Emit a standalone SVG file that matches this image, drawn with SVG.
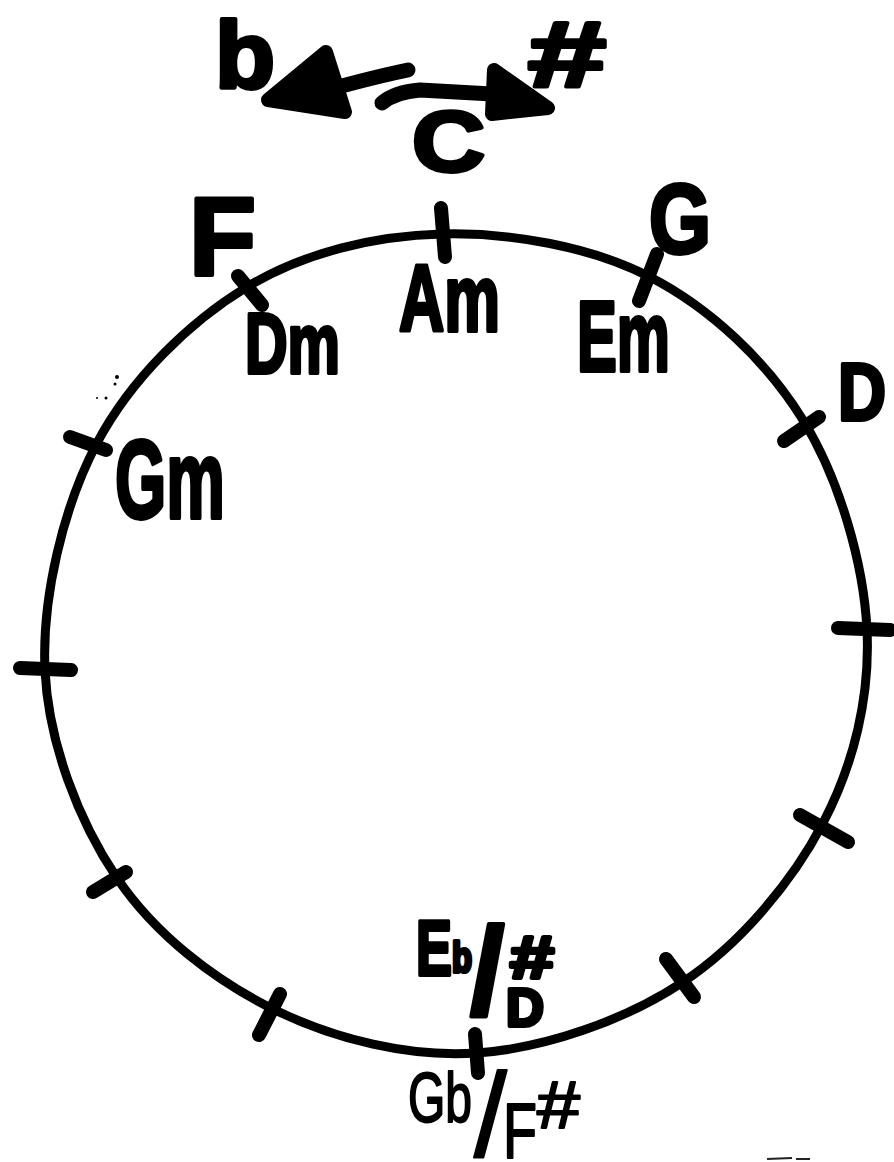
<svg xmlns="http://www.w3.org/2000/svg" width="894" height="1162" viewBox="0 0 894 1162">
<style>
.ring{fill:none;stroke:#000;stroke-width:9;stroke-linecap:round;stroke-linejoin:round}
.tick{stroke:#000;stroke-width:14;stroke-linecap:round}
.lbl{font-family:"Liberation Sans",Arial,sans-serif;font-weight:bold;fill:#000;stroke:#000;stroke-width:4;stroke-linejoin:round}
.thin{font-family:"Liberation Sans",Arial,sans-serif;font-weight:normal;fill:#000;stroke:#000;stroke-width:2;stroke-linejoin:round}
.shaft{fill:none;stroke:#000;stroke-width:15;stroke-linecap:round;stroke-linejoin:round}
.head{fill:#000;stroke:#000;stroke-width:14;stroke-linecap:round;stroke-linejoin:round}
.speck{fill:#000}
</style>
<rect width="894" height="1162" fill="#fff"/>

<g id="circle">
<path class="ring" d="M442 234 C509.2 232.3 589.8 246 650 277 C710.2 308 766.8 361.2 803 420 C839.2 478.8 863.7 562.8 867 630 C870.3 697.2 853.7 764.3 823 823 C792.3 881.7 740.7 943.7 683 982 C625.3 1020.3 545 1048.3 477 1053 C409 1057.7 335 1039.2 275 1010 C215 980.8 155.3 934.7 117 878 C78.7 821.3 48.3 742.5 45 670 C41.7 597.5 63.3 506.8 97 443 C130.7 379.2 189.5 321.8 247 287 C304.5 252.2 374.8 235.7 442 234 Z"/>
</g>

<g id="ticks">
<line class="tick" x1="441" y1="208" x2="445" y2="257"/>
<line class="tick" x1="657" y1="254" x2="639" y2="301"/>
<line class="tick" x1="238" y1="276" x2="262" y2="305"/>
<line class="tick" x1="784" y1="441" x2="819" y2="417"/>
<line class="tick" x1="838" y1="628" x2="890" y2="630"/>
<line class="tick" x1="800" y1="815" x2="848" y2="842"/>
<line class="tick" x1="666" y1="959" x2="694" y2="997"/>
<line class="tick" x1="475" y1="1034" x2="478" y2="1073"/>
<line class="tick" x1="280" y1="994" x2="259" y2="1035"/>
<line class="tick" x1="126" y1="872" x2="93" y2="892"/>
<line class="tick" x1="20" y1="668" x2="71" y2="670"/>
<line class="tick" x1="70" y1="437" x2="106" y2="450"/>
</g>

<g id="connectors">
<path class="shaft" d="M408 70 Q360 80 300 98"/>
<path class="head" d="M326 52 L268 100 L345 112 Z"/>
<path class="shaft" d="M382 103 Q395 92 420 90 L530 96"/>
<path class="head" d="M494 70 L548 108 L492 114 Z"/>
</g>

<g id="node-flat"><text class="lbl" x="215" y="88" font-size="95" textLength="60" lengthAdjust="spacingAndGlyphs">b</text></g>
<g id="node-sharp"><text class="lbl" x="528" y="86" font-size="92" textLength="78" lengthAdjust="spacingAndGlyphs">#</text></g>
<g id="node-C"><text class="lbl" x="412" y="171" font-size="86" textLength="73" lengthAdjust="spacingAndGlyphs">C</text></g>
<g id="node-F"><text class="lbl" x="189" y="275" font-size="111" textLength="67" lengthAdjust="spacingAndGlyphs">F</text></g>
<g id="node-G"><text class="lbl" x="649" y="253" font-size="98" textLength="62" lengthAdjust="spacingAndGlyphs">G</text></g>
<g id="node-D"><text class="lbl" x="838" y="420" font-size="82" textLength="48" lengthAdjust="spacingAndGlyphs">D</text></g>
<g id="node-Am"><text class="lbl" x="399" y="331" font-size="95" textLength="101" lengthAdjust="spacingAndGlyphs">Am</text></g>
<g id="node-Dm"><text class="lbl" x="245" y="373" font-size="86" textLength="95" lengthAdjust="spacingAndGlyphs">Dm</text></g>
<g id="node-Em"><text class="lbl" x="577" y="371" font-size="100" textLength="93" lengthAdjust="spacingAndGlyphs">Em</text></g>
<g id="node-Gm"><text class="lbl" x="115" y="518" font-size="112" textLength="110" lengthAdjust="spacingAndGlyphs">Gm</text></g>

<g id="node-Eb-Dsharp">
<text class="lbl"><tspan x="416" y="975" font-size="78" textLength="36" lengthAdjust="spacingAndGlyphs">E</tspan><tspan x="452" y="972" font-size="42" textLength="20" lengthAdjust="spacingAndGlyphs">b</tspan><tspan x="470" y="1014" font-size="124">/</tspan><tspan x="506" y="1026" font-size="54" textLength="38" lengthAdjust="spacingAndGlyphs">D</tspan><tspan x="510" y="978" font-size="60" textLength="44" lengthAdjust="spacingAndGlyphs">#</tspan></text>
</g>

<g id="node-Gb-Fsharp">
<text class="thin"><tspan x="408" y="1122" font-size="70" textLength="64" lengthAdjust="spacingAndGlyphs">Gb</tspan><tspan x="474" y="1156" font-size="118">/</tspan><tspan x="503" y="1158" font-size="78" textLength="34" lengthAdjust="spacingAndGlyphs">F</tspan><tspan x="537" y="1128" font-size="66" textLength="43" lengthAdjust="spacingAndGlyphs">#</tspan></text>
</g>

<g id="specks">
<circle class="speck" cx="117" cy="377" r="2"/>
<circle class="speck" cx="115" cy="384" r="1.5"/>
<circle class="speck" cx="97" cy="398" r="1"/>
<circle class="speck" cx="106" cy="398" r="1.5"/>
<line x1="767" y1="1159" x2="792" y2="1158" stroke="#222" stroke-width="2"/>
<line x1="796" y1="1159" x2="810" y2="1159" stroke="#222" stroke-width="2"/>
</g>
</svg>
